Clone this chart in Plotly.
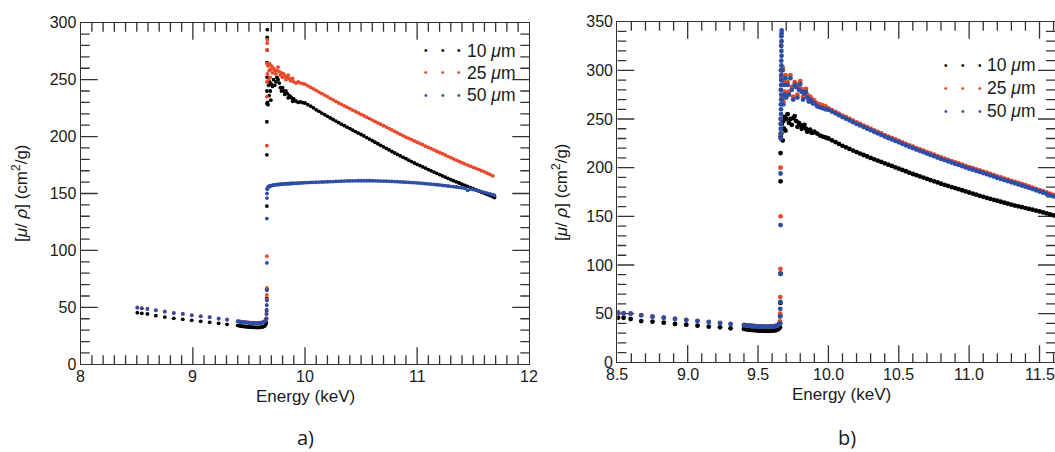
import plotly.graph_objects as go

# ---------------- data ----------------
E_SPARSE = [8.505, 8.545, 8.595, 8.67, 8.75, 8.83, 8.91, 8.99, 9.07, 9.15, 9.23, 9.305]
E_DENSE = [9.40, 9.41, 9.42, 9.43, 9.44, 9.45, 9.46, 9.47, 9.48, 9.49, 9.50, 9.51, 9.52,
           9.53, 9.54, 9.55, 9.56, 9.57, 9.58, 9.59, 9.60, 9.61, 9.62, 9.63, 9.64, 9.65]
E_OSC = [9.665, 9.67, 9.675, 9.68, 9.685, 9.69, 9.695, 9.70, 9.71, 9.72, 9.73, 9.74, 9.75,
         9.76, 9.77, 9.78, 9.79, 9.80, 9.81, 9.82, 9.83, 9.84, 9.85, 9.86, 9.87, 9.88, 9.89,
         9.90, 9.92, 9.94, 9.96, 9.98]
E_SMOOTH = [10.000, 10.025, 10.050, 10.075, 10.100, 10.125, 10.150, 10.175, 10.200, 10.225,
            10.250, 10.275, 10.300, 10.325, 10.350, 10.375, 10.400, 10.425, 10.450, 10.475,
            10.500, 10.525, 10.550, 10.575, 10.600, 10.625, 10.650, 10.675, 10.700, 10.725,
            10.750, 10.775, 10.800, 10.825, 10.850, 10.875, 10.900, 10.925, 10.950, 10.975,
            11.000, 11.025, 11.050, 11.075, 11.100, 11.125, 11.150, 11.175, 11.200, 11.225,
            11.250, 11.275, 11.300, 11.325, 11.350, 11.375, 11.400, 11.425, 11.450, 11.475,
            11.500, 11.525, 11.550, 11.575, 11.600, 11.625, 11.650, 11.675]

# tick labels
A_XTICKS = [8, 9, 10, 11, 12]
B_XTICKS = [8.5, 9.0, 9.5, 10.0, 10.5, 11.0, 11.5]
A_YTICKS = [0, 50, 100, 150, 200, 250, 300]
B_YTICKS = [0, 50, 100, 150, 200, 250, 300, 350]

# ---- panel a ----
a_black_sparse = [45.3, 44.8, 44.2, 42.7, 41.5, 40.4, 39.5, 38.6, 37.7, 36.9, 36.0, 35.1]
a_red_sparse = [49.9, 49.3, 48.8, 47.6, 46.4, 45.2, 44.4, 43.2, 42.3, 41.5, 40.3, 39.4]
a_blue_sparse = [49.7, 49.1, 48.6, 47.4, 46.2, 45.0, 44.2, 43.0, 42.1, 41.3, 40.1, 39.2]

a_black_dense = [34.2, 34.0, 33.8, 33.6, 33.5, 33.3, 33.2, 33.1, 33.0, 32.9, 32.8, 32.7, 32.6,
                 32.6, 32.5, 32.5, 32.4, 32.4, 32.4, 32.4, 32.5, 32.6, 32.8, 33.1, 33.6, 34.8]
a_red_dense = [38.0, 37.8, 37.6, 37.5, 37.3, 37.2, 37.1, 37.0, 36.9, 36.8, 36.7, 36.6, 36.6,
               36.5, 36.5, 36.4, 36.4, 36.4, 36.4, 36.5, 36.6, 36.7, 36.9, 37.3, 37.9, 39.2]
a_blue_dense = [37.7, 37.5, 37.3, 37.2, 37.0, 36.9, 36.8, 36.7, 36.6, 36.5, 36.4, 36.3, 36.3,
                36.2, 36.2, 36.1, 36.1, 36.1, 36.1, 36.2, 36.3, 36.4, 36.6, 37.0, 37.6, 38.9]

a_black_edge_e = [9.655, 9.657, 9.658, 9.659, 9.66, 9.66, 9.66, 9.66, 9.661, 9.661, 9.662, 9.662, 9.663, 9.663, 9.664]
a_black_edge = [36.5, 40, 47, 58, 66, 139, 184, 213, 229, 240, 252, 265, 276, 287, 294]
a_red_edge_e = [9.655, 9.657, 9.658, 9.659, 9.66, 9.66, 9.66, 9.66, 9.661, 9.661, 9.662, 9.662, 9.663, 9.664]
a_red_edge = [40.5, 45, 52, 57, 61, 67, 95, 192, 235, 248, 264, 276, 282, 285]
a_blue_edge_e = [9.655, 9.657, 9.658, 9.659, 9.66, 9.66, 9.66, 9.66, 9.661, 9.661, 9.662]
a_blue_edge = [40, 44, 48, 52, 56, 65, 89, 128, 146, 150, 154]

a_black_osc = [230, 228, 245, 236, 248, 240, 232, 246, 244, 250, 245, 248, 252, 250, 247, 243,
               240, 243, 240, 237, 240, 238, 234, 236, 235, 234, 231, 233, 231, 230, 230.5, 229.8]
a_red_osc = [255, 262, 250, 258, 264, 252, 259, 262, 256, 260, 258, 255, 258, 261, 257, 254,
             256, 252, 255, 253, 250, 252, 254, 251, 249, 250, 251, 248, 247, 248, 247, 246.5]
a_blue_osc = [154.0, 155.5, 156.0, 156.3, 156.5, 156.6, 156.8, 157.0, 157.2, 157.4, 157.5, 157.6,
              157.8, 157.9, 158.0, 158.1, 158.2, 158.3, 158.4, 158.5, 158.5, 158.6, 158.7, 158.7,
              158.8, 158.8, 158.9, 158.9, 159.0, 159.1, 159.2, 159.4]

a_black_smooth = [229.5, 228.0, 226.8, 225.2, 223.5, 222.2, 220.6, 219.2, 217.8, 216.4,
                  215.0, 213.6, 212.2, 210.9, 209.6, 208.3, 207.0, 205.7, 204.4, 203.1,
                  201.8, 200.5, 199.1, 197.8, 196.4, 195.0, 193.7, 192.3, 191.0, 189.6,
                  188.3, 186.9, 185.6, 184.3, 183.0, 181.8, 180.6, 179.3, 178.0, 176.8,
                  175.6, 174.5, 173.3, 172.2, 171.0, 169.9, 168.8, 167.7, 166.6, 165.5,
                  164.4, 163.3, 162.2, 161.2, 160.2, 159.2, 158.2, 157.2, 156.2, 155.2,
                  154.2, 153.2, 152.2, 151.2, 150.2, 149.2, 148.2, 147.2]
a_red_smooth = [246.0, 244.6, 243.2, 241.9, 240.5, 239.1, 237.8, 236.4, 235.0, 233.6,
                232.3, 230.9, 229.5, 228.3, 227.0, 225.8, 224.5, 223.3, 222.0, 220.8,
                219.5, 218.3, 217.0, 215.8, 214.5, 213.3, 212.0, 210.8, 209.5, 208.3,
                207.0, 205.8, 204.5, 203.3, 202.0, 200.8, 199.5, 198.4, 197.3, 196.1,
                195.0, 193.9, 192.8, 191.6, 190.5, 189.4, 188.3, 187.1, 186.0, 184.9,
                183.8, 182.6, 181.5, 180.4, 179.3, 178.1, 177.0, 176.0, 175.0, 174.0,
                173.0, 172.0, 171.0, 170.0, 169.0, 167.8, 166.7, 165.5]
a_blue_smooth = [159.5, 159.6, 159.7, 159.8, 159.9, 160.0, 160.1, 160.2, 160.3, 160.4,
                 160.5, 160.6, 160.7, 160.8, 160.9, 161.0, 161.0, 161.1, 161.1, 161.2,
                 161.2, 161.2, 161.2, 161.2, 161.2, 161.1, 161.0, 160.9, 160.9, 160.8,
                 160.7, 160.6, 160.5, 160.4, 160.2, 160.1, 159.9, 159.8, 159.6, 159.5,
                 159.3, 159.1, 158.9, 158.6, 158.4, 158.2, 158.0, 157.7, 157.5, 157.2,
                 156.9, 156.6, 156.3, 156.0, 155.7, 155.3, 155.0, 154.6, 152.8, 153.9,
                 153.5, 152.9, 152.3, 151.7, 151.0, 150.4, 149.7, 149.0]
a_end_e = [11.69]
a_black_end = [146.4]
a_blue_end = [148.3]

# ---- panel b ----
b_black_sparse = [45.8, 45.8, 44.5, 42.4, 41.7, 40.7, 39.4, 38.7, 37.6, 36.6, 35.9, 34.9]
b_red_sparse = [51.2, 50.5, 50.2, 48.5, 47.1, 46.0, 44.7, 43.6, 42.6, 41.5, 40.5, 39.5]
b_blue_sparse = [51.0, 50.3, 50.0, 48.3, 46.9, 45.8, 44.5, 43.4, 42.4, 41.3, 40.3, 39.3]

b_black_dense = [34.3, 34.1, 33.9, 33.7, 33.5, 33.4, 33.2, 33.1, 33.0, 32.9, 32.8, 32.7, 32.6,
                 32.6, 32.5, 32.5, 32.4, 32.4, 32.4, 32.5, 32.6, 32.7, 32.9, 33.2, 33.8, 35.0]
b_red_dense = [38.4, 38.2, 38.0, 37.8, 37.6, 37.5, 37.4, 37.3, 37.2, 37.1, 37.0, 36.9, 36.9,
               36.8, 36.8, 36.7, 36.7, 36.7, 36.7, 36.8, 36.9, 37.0, 37.2, 37.6, 38.2, 39.5]
b_blue_dense = [38.2, 38.0, 37.8, 37.6, 37.4, 37.3, 37.2, 37.1, 37.0, 36.9, 36.8, 36.7, 36.7,
                36.6, 36.6, 36.5, 36.5, 36.5, 36.5, 36.6, 36.7, 36.8, 37.0, 37.4, 38.0, 39.3]

b_black_edge_e = [9.655, 9.657, 9.658, 9.659, 9.66, 9.66, 9.66, 9.661, 9.662]
b_black_edge = [36, 40, 48, 61, 91, 186, 215, 232, 245]
b_red_edge_e = [9.655, 9.657, 9.658, 9.659, 9.66, 9.66, 9.66, 9.661, 9.662, 9.663, 9.664]
b_red_edge = [42, 50, 67, 96, 150, 200, 235, 250, 280, 300, 326]
b_blue_edge_e = [9.655, 9.657, 9.658, 9.659, 9.66, 9.66, 9.66,
                 9.661, 9.662, 9.661, 9.663, 9.662, 9.664, 9.663, 9.662, 9.664, 9.665, 9.663, 9.664,
                 9.666, 9.665, 9.664, 9.666, 9.665, 9.667, 9.666, 9.665, 9.667, 9.666, 9.667, 9.668]
b_blue_edge = [40, 47, 55, 62, 91, 141, 194,
               230, 235, 240, 245, 250, 255, 260, 265, 270, 275, 280, 285, 290, 295, 300,
               305, 310, 315, 320, 325, 330, 335, 338, 341]

b_black_osc = [235, 245, 228, 248, 240, 252, 238, 250, 255, 246, 250, 244, 251, 253, 248, 242,
               246, 244, 240, 243, 244, 240, 237, 238, 239, 236, 236, 237, 235, 233, 232, 231]
b_red_osc = [293, 273, 303, 268, 288, 278, 295, 275, 288, 278, 295, 283, 273, 288, 286, 275,
             283, 289, 281, 273, 279, 281, 275, 271, 273, 271, 269, 269, 266, 265, 264, 263]
b_blue_osc = [290, 270, 300, 265, 285, 275, 292, 272, 285, 275, 292, 280, 270, 285, 283, 272,
              280, 286, 278, 270, 276, 278, 272, 268, 270, 268, 266, 266, 263, 262, 261, 260]

b_black_smooth = [230.0, 228.1, 226.3, 224.4, 222.5, 220.9, 219.3, 217.6, 216.0, 214.5,
                  213.0, 211.5, 210.0, 208.6, 207.3, 205.9, 204.5, 203.1, 201.8, 200.4,
                  199.0, 197.6, 196.3, 194.9, 193.5, 192.3, 191.0, 189.8, 188.5, 187.3,
                  186.0, 184.8, 183.5, 182.4, 181.3, 180.1, 179.0, 177.9, 176.8, 175.6,
                  174.5, 173.4, 172.3, 171.1, 170.0, 169.0, 168.0, 167.0, 166.0, 165.0,
                  164.0, 163.0, 162.0, 161.1, 160.3, 159.4, 158.5, 157.6, 156.8, 155.9,
                  155.0, 154.0, 153.0, 152.0, 151.0]
b_red_smooth = [261.0, 259.1, 257.3, 255.4, 253.5, 251.8, 250.0, 248.3, 246.5, 244.9,
                243.3, 241.6, 240.0, 238.4, 236.8, 235.1, 233.5, 232.0, 230.5, 229.0,
                227.5, 226.0, 224.5, 223.0, 221.5, 220.1, 218.8, 217.4, 216.0, 214.6,
                213.3, 211.9, 210.5, 209.3, 208.0, 206.8, 205.5, 204.3, 203.0, 201.8,
                200.5, 199.4, 198.3, 197.1, 196.0, 194.8, 193.5, 192.3, 191.0, 189.9,
                188.8, 187.6, 186.5, 185.4, 184.3, 183.1, 182.0, 180.8, 179.5, 178.3,
                177.0, 175.8, 174.5, 173.3, 172.0]
b_blue_smooth = [259.5, 257.6, 255.8, 253.9, 252.0, 250.3, 248.5, 246.8, 245.0, 243.4,
                 241.8, 240.1, 238.5, 236.9, 235.3, 233.6, 232.0, 230.5, 229.0, 227.5,
                 226.0, 224.5, 223.0, 221.5, 220.0, 218.6, 217.3, 215.9, 214.5, 213.1,
                 211.8, 210.4, 209.0, 207.8, 206.5, 205.3, 204.0, 202.8, 201.5, 200.3,
                 199.0, 197.9, 196.8, 195.6, 194.5, 193.3, 192.0, 190.8, 189.5, 188.4,
                 187.3, 186.1, 185.0, 183.9, 182.8, 181.6, 180.5, 179.3, 178.0, 176.8,
                 175.5, 174.3, 173.0, 171.8, 170.5]

SERIES_NAMES = ["10 μm", "25 μm", "50 μm"]
SERIES_LABELS = ["10 <i>μ</i>m", "25 <i>μ</i>m", "50 <i>μ</i>m"]
COLORS = ["#000000", "#E8492B", "#2C4EA6"]

# ---------------- figure ----------------
W, H = 1055, 452
# plot-area boxes in pixels: (left, right, top, bottom)
BOX_A = (80.7, 529.3, 22.7, 364.3)
BOX_B = (617.3, 1055.0, 21.7, 362.3)
RANGE_A = ((8.0, 12.0), (0.0, 300.0))
RANGE_B = ((8.5, 11.61), (0.0, 350.0))


def px(x):
    return x / W


def py(y):
    return 1 - y / H


FONT = "Liberation Sans, Arial, Helvetica, sans-serif"
LINE = "#333333"
TXT = "#1a1a1a"
MAJ, MIN = 17, 9


def tick_path(box, ranges, xvals, xmajor, yvals, ymajor):
    """Inside tick marks on all four sides, as one line path in axis units."""
    left, right, top, bottom = box
    (x0, x1), (y0, y1) = ranges
    xu = (x1 - x0) / (right - left)
    yu = (y1 - y0) / (bottom - top)
    tx, ty = [], []
    for v in xvals:
        ln = MAJ if v in xmajor else MIN
        tx += [v, v, None, v, v, None]
        ty += [y0, y0 + ln * yu, None, y1, y1 - ln * yu, None]
    for v in yvals:
        ln = MAJ if v in ymajor else MIN
        tx += [x0, x0 + ln * xu, None, x1, x1 - ln * xu, None]
        ty += [v, v, None, v, v, None]
    return tx, ty


fig = go.Figure()

a_xminor = [round(8 + 0.1 * k, 1) for k in range(1, 40)]
a_yminor = [10 * k for k in range(1, 30)]
b_xminor = [round(8.5 + 0.1 * k, 1) for k in range(1, 32)]
b_yminor = [10 * k for k in range(1, 35)]
tka = tick_path(BOX_A, RANGE_A, a_xminor, set(A_XTICKS), a_yminor, set(A_YTICKS))
tkb = tick_path(BOX_B, RANGE_B, b_xminor, set(B_XTICKS), b_yminor, set(B_YTICKS))
fig.add_trace(go.Scatter(x=tka[0], y=tka[1], mode="lines", line=dict(color=LINE, width=1.3),
                         xaxis="x", yaxis="y", showlegend=False, hoverinfo="skip"))
fig.add_trace(go.Scatter(x=tkb[0], y=tkb[1], mode="lines", line=dict(color=LINE, width=1.3),
                         xaxis="x2", yaxis="y2", showlegend=False, hoverinfo="skip"))

panel_a = [
    (E_SPARSE + E_DENSE + a_black_edge_e + E_OSC + E_SMOOTH + a_end_e,
     a_black_sparse + a_black_dense + a_black_edge + a_black_osc + a_black_smooth + a_black_end),
    (E_SPARSE + E_DENSE + a_red_edge_e + E_OSC + E_SMOOTH,
     a_red_sparse + a_red_dense + a_red_edge + a_red_osc + a_red_smooth),
    (E_SPARSE + E_DENSE + a_blue_edge_e + E_OSC + E_SMOOTH + a_end_e,
     a_blue_sparse + a_blue_dense + a_blue_edge + a_blue_osc + a_blue_smooth + a_blue_end),
]
EB = E_SMOOTH[:len(b_black_smooth)]
panel_b = [
    (E_SPARSE + E_DENSE + b_black_edge_e + E_OSC + EB,
     b_black_sparse + b_black_dense + b_black_edge + b_black_osc + b_black_smooth),
    (E_SPARSE + E_DENSE + b_red_edge_e + E_OSC + EB,
     b_red_sparse + b_red_dense + b_red_edge + b_red_osc + b_red_smooth),
    (E_SPARSE + E_DENSE + b_blue_edge_e + E_OSC + EB,
     b_blue_sparse + b_blue_dense + b_blue_edge + b_blue_osc + b_blue_smooth),
]
for xs, ys in panel_a + panel_b:
    assert len(xs) == len(ys), (len(xs), len(ys))

for i, (xs, ys) in enumerate(panel_a):
    fig.add_trace(go.Scatter(x=xs, y=ys, mode="markers", name=SERIES_NAMES[i],
                             marker=dict(size=3.8, color=COLORS[i], line=dict(width=0)),
                             xaxis="x", yaxis="y", showlegend=False))
for i, (xs, ys) in enumerate(panel_b):
    fig.add_trace(go.Scatter(x=xs, y=ys, mode="markers", name=SERIES_NAMES[i],
                             marker=dict(size=4.8, color=COLORS[i], line=dict(width=0)),
                             xaxis="x2", yaxis="y2", showlegend=False))

common = dict(showline=True, linecolor=LINE, linewidth=1.3, mirror=True,
              ticks="", showgrid=False, zeroline=False, automargin=False,
              tickfont=dict(family=FONT, size=16, color=TXT))
YSUF = "\u2009\u2009\u2009\u2009"

fig.update_layout(
    width=W, height=H, margin=dict(l=0, r=0, t=0, b=0),
    paper_bgcolor="white", plot_bgcolor="white",
    font=dict(family=FONT, color=TXT),
    xaxis=dict(domain=[px(BOX_A[0]), px(BOX_A[1])], range=list(RANGE_A[0]),
               showticklabels=False, anchor="y", **common),
    yaxis=dict(domain=[py(BOX_A[3]), py(BOX_A[2])], range=list(RANGE_A[1]),
               tickvals=A_YTICKS, ticksuffix=YSUF, anchor="x", **common),
    xaxis2=dict(domain=[px(BOX_B[0]), px(BOX_B[1])], range=list(RANGE_B[0]),
                showticklabels=False, anchor="y2", **common),
    yaxis2=dict(domain=[py(BOX_B[3]), py(BOX_B[2])], range=list(RANGE_B[1]),
                tickvals=B_YTICKS, ticksuffix=YSUF, anchor="x2", **common),
)

ann = []
# x tick labels (placed a little below the axis, as in the reference)
for v in A_XTICKS:
    ann.append(dict(x=v, y=py(376.5), xref="x", yref="paper", text=f"{v:d}",
                    showarrow=False, font=dict(family=FONT, size=16, color=TXT),
                    xanchor="center", yanchor="middle"))
for v in B_XTICKS:
    ann.append(dict(x=v, y=py(374.5), xref="x2", yref="paper", text=f"{v:.1f}",
                    showarrow=False, font=dict(family=FONT, size=16, color=TXT),
                    xanchor="center", yanchor="middle"))
# axis titles
for cx, cy in [(305, 396), (841, 394)]:
    ann.append(dict(x=px(cx), y=py(cy), xref="paper", yref="paper", text="Energy (keV)",
                    showarrow=False, font=dict(family=FONT, size=17, color=TXT),
                    xanchor="center", yanchor="middle"))
for cx, cy in [(20, 193), (560, 192)]:
    ann.append(dict(x=px(cx), y=py(cy), xref="paper", yref="paper",
                    text="[<i>μ</i>/ <i>ρ</i>] (cm<sup>2</sup>/g)", textangle=-90,
                    showarrow=False, font=dict(family=FONT, size=17, color=TXT),
                    xanchor="center", yanchor="middle"))
# panel letters
for cx, t in [(305, "a)"), (847, "b)")]:
    ann.append(dict(x=px(cx), y=py(437), xref="paper", yref="paper", text=t,
                    showarrow=False, font=dict(family="Open Sans, sans-serif", size=20, color=TXT),
                    xanchor="center", yanchor="middle"))
# legends (three dots + label)
legend_layout = [
    dict(dots=[426, 442.7, 459.3], text_x=465, rows=[50.7, 72.7, 95]),
    dict(dots=[946, 963.3, 980], text_x=985, rows=[65, 88.3, 111]),
]
for lg in legend_layout:
    for i, ry in enumerate(lg["rows"]):
        for dx in lg["dots"]:
            ann.append(dict(x=px(dx), y=py(ry), xref="paper", yref="paper", text="•",
                            showarrow=False, font=dict(family=FONT, size=10, color=COLORS[i]),
                            xanchor="center", yanchor="middle"))
        ann.append(dict(x=px(lg["text_x"]), y=py(ry), xref="paper", yref="paper",
                        text=SERIES_LABELS[i], showarrow=False,
                        font=dict(family=FONT, size=17.5, color=TXT),
                        xanchor="left", yanchor="middle"))
fig.update_layout(annotations=ann)

fig.write_html("out.html", config={"displayModeBar": False},
               post_script="document.body.style.margin='0';")
